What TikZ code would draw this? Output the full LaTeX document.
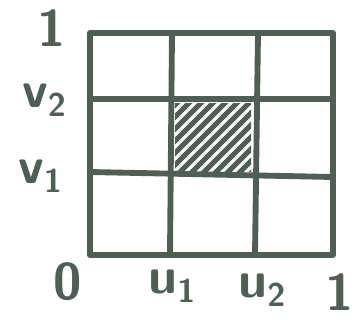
\documentclass[tikz,border=0pt]{standalone}
\usepackage{tikz}
\usetikzlibrary{positioning}
\definecolor{inkgreen}{RGB}{80,94,86}

\newcommand{\subidx}[2]{#1\raisebox{-0.4ex}{\fontsize{28}{30}\selectfont #2}}

\begin{document}
\begin{tikzpicture}[x=0.03cm,y=-0.03cm,
    gridline/.style={draw=inkgreen,line width=5pt,line cap=round,line join=round},
    hatchline/.style={draw=inkgreen,line width=4.4pt,line cap=round},
    ticklabel/.style={text=inkgreen,inner sep=0pt,
      font=\fontsize{44}{48}\selectfont\sffamily\bfseries}]
  \useasboundingbox (0,0) rectangle (355,326);
  % unit square and its grid
  \coordinate (ll) at (90,255);
  \coordinate (ur) at (333,33);
  \coordinate (u1top) at (172,33);  \coordinate (u1bot) at (170,255);
  \coordinate (u2top) at (258,33);  \coordinate (u2bot) at (255,255);
  \coordinate (v2left) at (90,99);  \coordinate (v2right) at (333,99);
  \coordinate (v1left) at (90,172); \coordinate (v1right) at (333,177);
  % hatched cell
  \begin{scope}
    \clip (175,103) rectangle (251,171);
    \foreach \a in {90,102,...,270}
      \draw[hatchline] (\a,178) -- (\a+80,98);
  \end{scope}
  \draw[gridline] (ll) rectangle (ur);
  \draw[gridline] (u1top) -- (u1bot);
  \draw[gridline] (u2top) -- (u2bot);
  \draw[gridline] (v2left) -- (v2right);
  \draw[gridline] (v1left) -- (v1right);
  % axis labels
  \node[ticklabel] (top1)  at (52,28)  {1};
  \node[ticklabel] (labv2) at (44,100) {\subidx{v}{2}};
  \node[ticklabel] (labv1) at (40,176) {\subidx{v}{1}};
  \node[ticklabel] (zero)  at (68,282) {0};
  \node[ticklabel] (labu1) at (172,286) {\subidx{u}{1}};
  \node[ticklabel] (labu2) at (262,290) {\subidx{u}{2}};
  \node[ticklabel] (right1) at (340,292) {1};
\end{tikzpicture}
\end{document}
